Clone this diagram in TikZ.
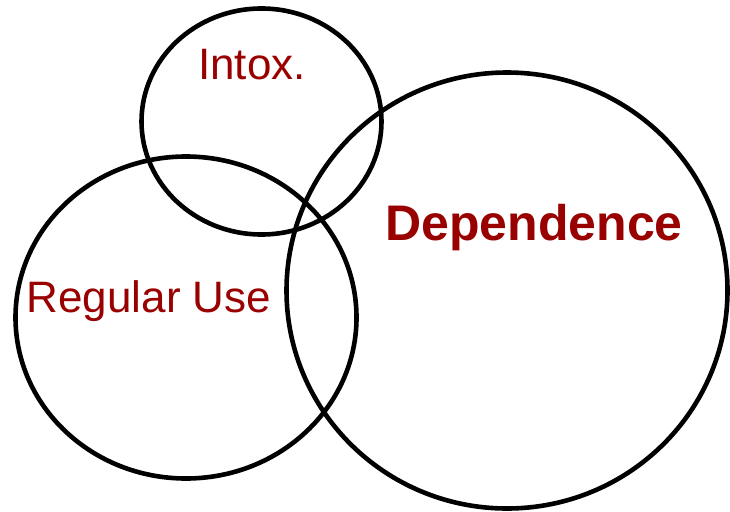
\documentclass[tikz,border=0pt]{standalone}
\usepackage{fontspec}
\setmainfont{Liberation Sans}
\definecolor{lblred}{HTML}{990000}
\tikzset{
  ring/.style={draw=black, line width=4.6pt},
  lbl/.style={text=lblred, font=\fontsize{44}{48}\selectfont, anchor=base, inner sep=0pt},
  biglbl/.style={lbl, font=\fontsize{50}{54}\selectfont\bfseries}
}
\begin{document}
\begin{tikzpicture}[x=1pt,y=-1pt]
                \useasboundingbox (0,0) rectangle (730,511);
                \draw [ring] (261.5,121.5) ellipse [x radius=120, y radius=113] ;
                \draw [ring] (186,317.5) ellipse [x radius=170.5, y radius=161] ;
                \draw [ring] (507,290.5) ellipse [x radius=220.5, y radius=218] ;
                \node [lbl] (intox) at (252,79) {Intox.} ;
                \node [lbl] (reguse) at (149,312) {Regular Use} ;
                \node [biglbl] (depend) at (534,240) {Dependence} ;
            \end{tikzpicture}
\end{document}
